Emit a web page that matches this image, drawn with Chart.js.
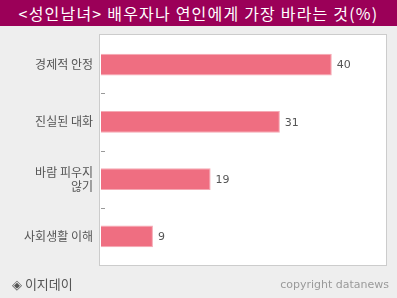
<!DOCTYPE html>
<html>
<head>
<meta charset="utf-8">
<script src="https://cdn.jsdelivr.net/npm/chart.js@4"></script>
<style>
  html, body { margin: 0; padding: 0; background: #eeeeee; }
  #wrap { position: relative; width: 397px; height: 298px; overflow: hidden; }
  #title {
    position: absolute; left: 0; top: 0; width: 397px; height: 26px;
    background: #9b0058; color: #fff; text-align: center;
    font: 16px "Noto Sans CJK KR", sans-serif; line-height: 26px;
    letter-spacing: 1.2px;
  }
  #brand {
    position: absolute; left: 12px; top: 274px; color: #555;
    font: 13px "Noto Sans CJK KR", sans-serif;
  }
  #copy {
    position: absolute; right: 8px; top: 278px; color: #9a9a9a;
    font: 11px "DejaVu Sans", sans-serif;
  }
  canvas { position: absolute; left: 0; top: 0; }
</style>
</head>
<body>
<div id="wrap">
  <canvas id="chart" width="397" height="298"></canvas>
  <div id="title">&lt;성인남녀&gt; 배우자나 연인에게 가장 바라는 것(%)</div>
  <div id="brand">◈ 이지데이</div>
  <div id="copy">copyright datanews</div>
</div>
<script>
// data
const categories = ['경제적 안정', '진실된 대화', ['바람 피우지', '않기'], '사회생활 이해'];
const shares = [40, 31, 19, 9];

// white plot box with grey frame
const plotBox = {
  id: 'plotBox',
  beforeDraw(chart) {
    const { ctx, chartArea: a } = chart;
    ctx.save();
    ctx.fillStyle = '#ffffff';
    ctx.fillRect(a.left - 1, a.top - 1, a.right - a.left + 1, a.bottom - a.top + 1);
    ctx.strokeStyle = '#cccccc';
    ctx.lineWidth = 1;
    ctx.strokeRect(a.left - 1.5, a.top - 1.5, a.right - a.left + 2, a.bottom - a.top + 2);
    ctx.restore();
  }
};

// little dashes between categories + value labels
const extras = {
  id: 'extras',
  afterDatasetsDraw(chart) {
    const { ctx } = chart;
    const y = chart.scales.y;
    const left = chart.chartArea.left;
    ctx.save();
    ctx.strokeStyle = '#999999';
    ctx.lineWidth = 1;
    for (let i = 0; i < categories.length - 1; i++) {
      const py = Math.round((y.getPixelForValue(i) + y.getPixelForValue(i + 1)) / 2) + 0.5;
      ctx.beginPath();
      ctx.moveTo(left, py);
      ctx.lineTo(left + 4, py);
      ctx.stroke();
    }
    ctx.fillStyle = '#555555';
    ctx.font = '11px "DejaVu Sans", sans-serif';
    ctx.textBaseline = 'middle';
    chart.getDatasetMeta(0).data.forEach((bar, i) => {
      ctx.fillText(String(shares[i]), bar.x + 5, bar.y + 1);
    });
    ctx.restore();
  }
};

new Chart(document.getElementById('chart'), {
  type: 'bar',
  data: {
    labels: categories,
    datasets: [{
      data: shares,
      backgroundColor: '#ef6e81',
      borderColor: '#f5a9b4',
      borderWidth: 1,
      barPercentage: 1,
      categoryPercentage: 0.38
    }]
  },
  options: {
    indexAxis: 'y',
    responsive: false,
    animation: false,
    layout: { padding: { top: 36, right: 11, bottom: 33, left: 0 } },
    plugins: { legend: { display: false }, tooltip: { enabled: false } },
    scales: {
      x: { display: false, min: 0, max: 49.4 },
      y: {
        afterFit(scale) { scale.width = 101; },
        grid: { display: false, drawTicks: false },
        border: { display: false },
        ticks: {
          color: '#555555',
          padding: 8,
          font: { family: '"Noto Sans CJK KR", sans-serif', size: 12, lineHeight: 1.15 }
        }
      }
    }
  },
  plugins: [plotBox, extras]
});
</script>
</body>
</html>
